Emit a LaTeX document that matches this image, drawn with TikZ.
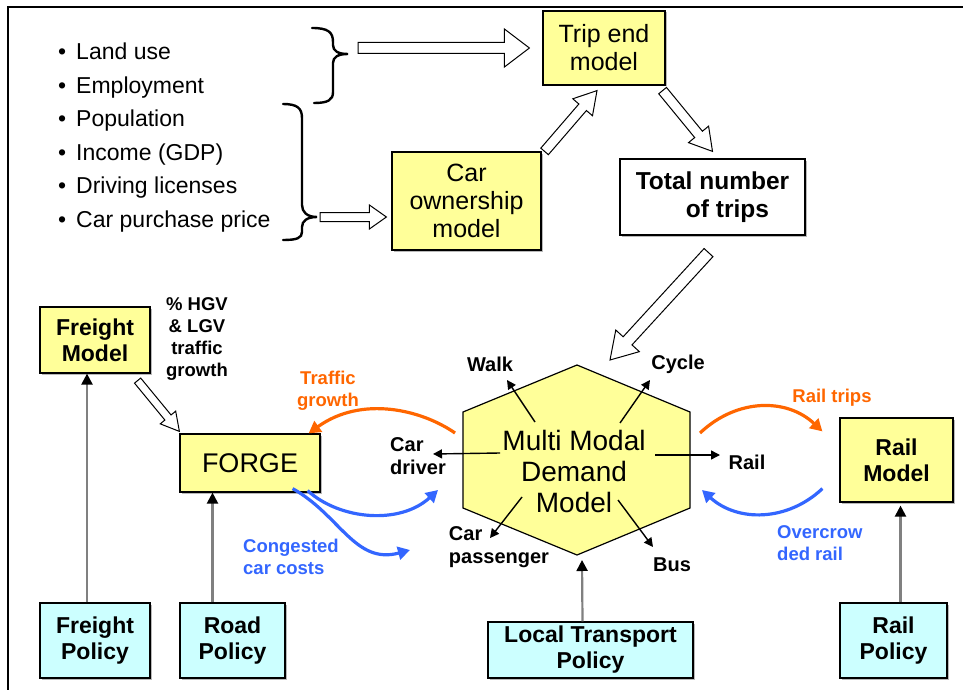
\documentclass[tikz,border=0pt]{standalone}
\usepackage{fontspec}
\setmainfont{Liberation Sans}
\usetikzlibrary{arrows.meta, positioning, calc, shadows}
\definecolor{modelyellow}{RGB}{255, 255, 153}
\definecolor{policycyan}{RGB}{204, 255, 255}
\definecolor{flowred}{RGB}{255, 102, 0}
\definecolor{flowblue}{RGB}{51, 102, 255}
\definecolor{linegray}{RGB}{128, 128, 128}
\tikzset{
    model/.style={rectangle, draw=black, fill=modelyellow, line width=1.2pt,
                  align=center, inner sep=0pt,
                  drop shadow={shadow xshift=1.5pt, shadow yshift=-1.5pt, fill=black!55},
                  font=\fontsize{25}{28}\selectfont},
    policy/.style={rectangle, draw=black, fill=policycyan, line width=1.2pt,
                   align=center, inner sep=0pt,
                   drop shadow={shadow xshift=1.5pt, shadow yshift=-1.5pt, fill=black!55},
                   font=\bfseries\fontsize{23}{26}\selectfont},
    factor/.style={anchor=base west, inner sep=0pt,
                   font=\fontsize{23}{26}\selectfont},
    mode/.style={align=left, inner sep=0pt,
                 font=\bfseries\fontsize{20}{23}\selectfont},
    note/.style={align=left, inner sep=0pt,
                 font=\bfseries\fontsize{18.5}{22}\selectfont},
    brace/.style={line width=2.4pt, line cap=round},
    hollow/.style={draw=black, fill=white, line width=1pt, line join=miter},
    modearr/.style={line width=1.4pt, -{Triangle[length=9pt, width=9pt]}},
    polarr/.style={draw=linegray, line width=2.2pt,
                   -{Triangle[length=11pt, width=11pt, color=black]}},
    flowarr/.style={line width=3.2pt, -{Triangle[length=12pt, width=13pt]}},
}
% block arrow: from, to, half shaft, half head, head length
\newcommand{\fatarrow}[5]{%
    \coordinate (fatfrom) at (#1);
    \coordinate (fatto) at (#2);
    \coordinate (fatneck) at ($(fatto)!#5!(fatfrom)$);
    \draw[hollow] ($(fatfrom)!#3!90:(fatto)$) -- ($(fatneck)!#3!90:(fatto)$)
        -- ($(fatneck)!#4!90:(fatto)$) -- (fatto)
        -- ($(fatneck)!#4!-90:(fatto)$) -- ($(fatneck)!#3!-90:(fatto)$)
        -- ($(fatfrom)!#3!-90:(fatto)$) -- cycle;
}

\begin{document}
\begin{tikzpicture}[x=1pt, y=-1pt]
    \useasboundingbox (0,0) rectangle (963,690);
    \draw[line width=2pt] (8,690) -- (8,7) -- (963,7);

    % input factors
    \node[factor] (landuse) at (58,60) {\textbullet\hspace{10pt}Land use};
    \node[factor] (employ) at (58,93.4) {\textbullet\hspace{10pt}Employment};
    \node[factor] (popul) at (58,126.8) {\textbullet\hspace{10pt}Population};
    \node[factor] (income) at (58,160.2) {\textbullet\hspace{10pt}Income (GDP)};
    \node[factor] (licence) at (58,193.6) {\textbullet\hspace{10pt}Driving licenses};
    \node[factor] (price) at (58,227) {\textbullet\hspace{10pt}Car purchase price};

    \draw[brace] (312,28) .. controls (328,28) and (333,32) .. (333,42) -- (333,45)
        .. controls (333,51) and (338,54) .. (348,54)
        .. controls (338,54) and (333,57) .. (333,63) -- (333,92)
        .. controls (333,100) and (328,103) .. (314,103);
    \coordinate (brtop) at (348,54);
    \draw[brace] (283,104) .. controls (297,104) and (302,108) .. (302,118) -- (302,205)
        .. controls (302,212) and (307,217) .. (317,217)
        .. controls (307,217) and (302,221) .. (302,227) -- (302,232)
        .. controls (302,238) and (297,240) .. (283,240);
    \coordinate (brbot) at (317,217);

    % upper models
    \node[model, minimum width=122pt, minimum height=74pt] (trip) at (604,48) {Trip end\\model};
    \node[model, minimum width=149pt, minimum height=98pt] (carown) at (466.5,201) {Car\\ownership\\model};
    \node[model, fill=white, font=\bfseries\fontsize{24.5}{28}\selectfont,
          minimum width=185pt, minimum height=76pt] (total) at (712.5,197)
          {Total number\\\hspace*{30pt}of trips};

    % multi modal demand model
    \coordinate (hc) at (577,460);
    \draw[fill=modelyellow, line width=1.2pt] ($(hc)+(0,-95)$) -- ($(hc)+(113,-48)$)
        -- ($(hc)+(113,48)$) -- ($(hc)+(0,95)$) -- ($(hc)+(-114,48)$)
        -- ($(hc)+(-114,-48)$) -- cycle;
    \node[align=center, inner sep=0pt, font=\fontsize{28}{31}\selectfont] (mmdm) at (574,471)
        {Multi Modal\\Demand\\Model};

    \node[mode] (walk) at (490,364) {Walk};
    \node[mode] (cycle) at (678,364) {Cycle};
    \node[mode] (railmode) at (747,462) {Rail};
    \node[mode] (cardrv) at (418,456) {Car\\driver};
    \node[mode] (carpas) at (499,547) {Car\\passenger};
    \node[mode] (bus) at (672,565) {Bus};

    % other models and policies
    \node[model, font=\bfseries\fontsize{23}{26}\selectfont,
          minimum width=110pt, minimum height=66pt] (fmodel) at (95,340) {Freight\\Model};
    \node[model, font=\fontsize{27}{30}\selectfont,
          minimum width=140pt, minimum height=58pt] (forge) at (250,463) {FORGE};
    \node[model, font=\bfseries\fontsize{23}{26}\selectfont,
          minimum width=113pt, minimum height=84pt] (railmod) at (896.5,460) {Rail\\Model};
    \node[policy, minimum width=110pt, minimum height=75pt] (fpol) at (95,640.5) {Freight\\Policy};
    \node[policy, minimum width=105pt, minimum height=75pt] (rpol) at (232.5,640.5) {Road\\Policy};
    \node[policy, minimum width=205pt, minimum height=56pt] (ltp) at (590.5,650) {Local Transport\\Policy};
    \node[policy, minimum width=107pt, minimum height=75pt] (railpol) at (893.5,640.5) {Rail\\Policy};

    \node[note, align=center] (hgvlbl) at (197,339) {\% HGV\\\& LGV\\traffic\\growth};
    \node[note, align=center, text=flowred] (trafficlbl) at (328,391) {Traffic\\growth};
    \node[note, text=flowblue, anchor=west] (conglbl) at (243,557) {Congested\\car costs};
    \node[note, text=flowred] (raillbl) at (832,398) {Rail trips};
    \node[note, text=flowblue, anchor=west] (crowdlbl) at (777,543) {Overcrow\\ded rail};

    % block arrows
    \fatarrow{$(brtop |- trip.west)+(10,0)$}{[xshift=-13pt]trip.west}{5.5pt}{19pt}{25pt}
    \fatarrow{[xshift=3pt]brbot}{$(carown.west |- brbot)+(-5,0)$}{4.5pt}{12pt}{17pt}
    \fatarrow{[xshift=3pt]carown.north east}{[xshift=-7pt,yshift=-5pt]trip.south}{5pt}{13pt}{22pt}
    \fatarrow{[xshift=-3pt,yshift=-5pt]trip.south east}{[yshift=7pt]total.north}{5pt}{13pt}{22pt}
    \fatarrow{[xshift=-4pt,yshift=-17pt]total.south}{$(hc)+(33,-100)$}{6pt}{16pt}{26pt}
    \fatarrow{[xshift=-13pt,yshift=-7pt]fmodel.south east}{[yshift=2pt]forge.north west}{4pt}{10pt}{18pt}

    % modes
    \draw[modearr] ($(hc)+(-42,-38)$) -- ($(walk)+(17,16)$);
    \draw[modearr] ($(hc)+(43,-37)$) -- ($(cycle)+(-28,16)$);
    \draw[modearr] ($(hc)+(78,-5)$) -- ($(railmode)+(-27,-7)$);
    \draw[modearr] ($(hc)+(-77,-7)$) -- ($(cardrv)+(15,-2)$);
    \draw[modearr] ($(hc)+(-55,37)$) -- ($(carpas)+(-9,-9)$);
    \draw[modearr] ($(hc)+(41,40)$) -- ($(bus)+(-19,-18)$);

    % policies
    \draw[polarr] ([xshift=-8pt]fpol.north) -- ([xshift=-8pt]fmodel.south);
    \draw[polarr] ([xshift=-20pt]rpol.north) -- ([xshift=-20pt]rpol.north |- forge.south);
    \draw[polarr] ([xshift=-8pt]ltp.north) -- ($(hc)+(5,100)$);
    \draw[polarr, shorten >=3pt] ([xshift=7pt]railpol.north) -- ([xshift=7pt]railpol.north |- railmod.south);

    % feedback flows
    \draw[flowarr, flowred] ($(hc)+(-122,-27)$) .. controls ($(hc)+(-155,-50)$) and ($(hc)+(-215,-65)$)
        .. ([xshift=-12pt]forge.north east);
    \draw[flowarr, flowred] ($(hc)+(123,-27)$) .. controls ($(hc)+(160,-62)$) and ($(hc)+(210,-62)$)
        .. ([xshift=-17pt,yshift=-14pt]railmod.north west);
    \draw[flowarr, flowblue] ([xshift=-17pt,yshift=14pt]railmod.south west) .. controls ($(hc)+(210,62)$)
        and ($(hc)+(160,62)$) .. ($(hc)+(125,30)$);
    \draw[flowarr, flowblue] ([xshift=-13pt,yshift=2pt]forge.south east) .. controls ($(hc)+(-237,60)$)
        and ($(hc)+(-177,65)$) .. ($(hc)+(-139,30)$);
    \draw[flowarr, flowblue] ([xshift=-28pt,yshift=4pt]forge.south east) .. controls ($(hc)+(-237,55)$)
        and ($(hc)+(-222,105)$) .. ($(hc)+(-167,90)$);
\end{tikzpicture}
\end{document}
